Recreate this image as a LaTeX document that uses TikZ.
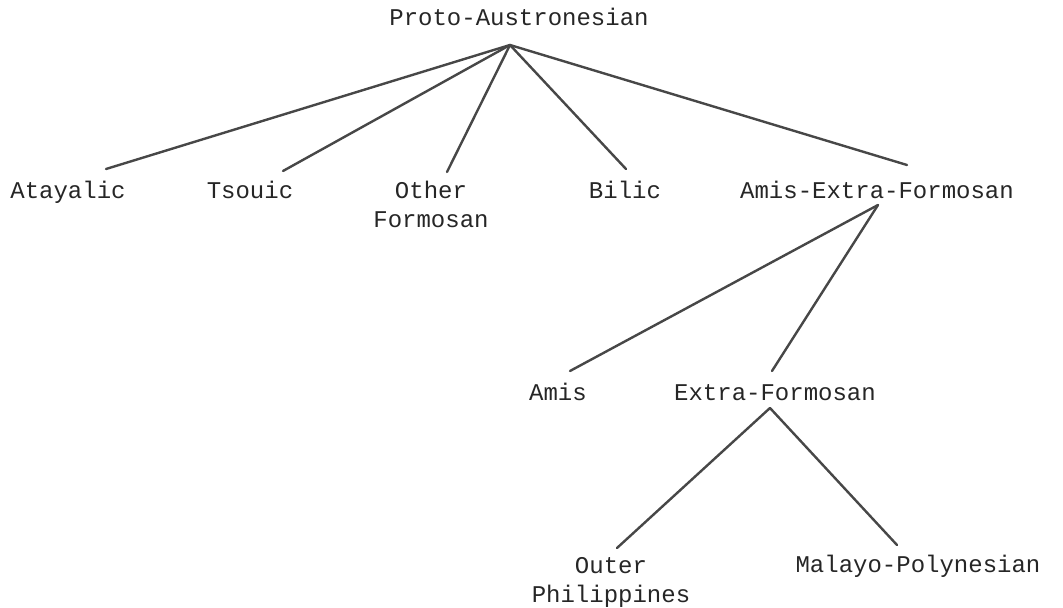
\documentclass[tikz,border=0pt]{standalone}
\usepackage{fontspec}
\setmonofont{Liberation Mono}
\begin{document}
\begin{tikzpicture}[x=0.5bp,y=-0.5bp,
  lang/.style={inner sep=0pt, anchor=base, align=center,
    font=\ttfamily\fontsize{12bp}{14.6bp}\selectfont, text=black!85},
  branch/.style={draw=black!72, line width=1.2bp, line cap=round}]
\useasboundingbox (0,0) rectangle (1063,608);

% family labels (base anchor = baseline of the last line)
\node[lang] (pan)   at (519,26)  {Proto-Austronesian};
\node[lang] (ata)   at (68,199)  {Atayalic};
\node[lang] (tso)   at (250,199) {Tsouic};
\node[lang] (oth)   at (431,228) {Other\\Formosan};
\node[lang] (bil)   at (625,199) {Bilic};
\node[lang] (aef)   at (877,199) {Amis-Extra-Formosan};
\node[lang] (ami)   at (558,401) {Amis};
\node[lang] (exf)   at (775,401) {Extra-Formosan};
\node[lang] (oph)   at (611,603) {Outer\\Philippines};
\node[lang] (mpo)   at (918,573) {Malayo-Polynesian};

% branching points just below each parent
\coordinate (pan-root) at (510,45);
\coordinate (aef-root) at (878,205);
\coordinate (exf-root) at (770,408);

% tops of the daughter branches
\coordinate (ata-top) at (106,169);
\coordinate (tso-top) at (283,171);
\coordinate (oth-top) at (447,172);
\coordinate (bil-top) at (626,169);
\coordinate (aef-top) at (907,165);
\coordinate (ami-top) at (570,371);
\coordinate (exf-top) at (772,371);
\coordinate (oph-top) at (617,548);
\coordinate (mpo-top) at (897,545);

\draw[branch] (pan-root) -- (ata-top);
\draw[branch] (pan-root) -- (tso-top);
\draw[branch] (pan-root) -- (oth-top);
\draw[branch] (pan-root) -- (bil-top);
\draw[branch] (pan-root) -- (aef-top);
\draw[branch] (aef-root) -- (ami-top);
\draw[branch] (aef-root) -- (exf-top);
\draw[branch] (exf-root) -- (oph-top);
\draw[branch] (exf-root) -- (mpo-top);
\end{tikzpicture}
\end{document}
